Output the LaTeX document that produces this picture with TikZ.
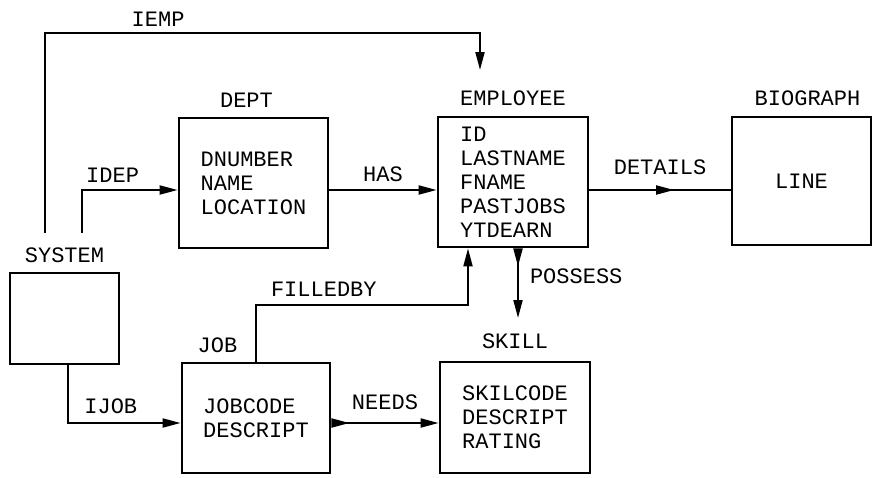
\documentclass[tikz,border=0pt]{standalone}
\usepackage{fontspec}
\setmonofont{Liberation Mono}
\usetikzlibrary{arrows.meta, positioning, decorations.markings}
\tikzset{
  every picture/.style={font=\ttfamily\fontsize{22}{24}\selectfont, line width=2pt},
  >={Triangle[length=18pt, width=9pt]},
  box/.style={draw, line width=2.8pt, align=left, inner sep=0pt},
  tag/.style={inner sep=0pt},
  rel/.style={inner sep=0pt},
  arrow/.style={->},
  twoway/.style={{Triangle[reversed, length=18pt, width=9pt]}->},
  midarrow/.style={postaction={decorate}, decoration={markings, mark=at position 0.6 with {\arrow{>}}}},
}

\begin{document}
\begin{tikzpicture}[x=1pt, y=-1pt]
  \useasboundingbox (0,0) rectangle (875,477);
  % entities
  \node[box, minimum width=109, minimum height=91] (sys) at (64.5,318.5) {};
  \node[box, minimum width=149, minimum height=130] (dept) at (253.5,183) {DNUMBER\\NAME\\LOCATION};
  \node[box, minimum width=150, minimum height=130] (emp) at (513,182) {ID\\LASTNAME\\FNAME\\PASTJOBS\\YTDEARN};
  \node[box, minimum width=139, minimum height=128] (bio) at (801.5,181) {LINE};
  \node[box, minimum width=148, minimum height=110] (job) at (256,418) {JOBCODE\\DESCRIPT};
  \node[box, minimum width=150, minimum height=111] (skill) at (515,417.5) {SKILCODE\\DESCRIPT\\RATING};
  \node[tag, above=8pt of sys] (sysname) {SYSTEM};
  \node[tag, above=8pt of dept, xshift=-7pt] (deptname) {DEPT};
  \node[tag, above=9pt of emp] (empname) {EMPLOYEE};
  \node[tag, above=9pt of bio, xshift=6pt] (bioname) {BIOGRAPH};
  \node[tag, above right=8pt and 16pt of job.north west] (jobname) {JOB};
  \node[tag, above=11pt of skill] (skillname) {SKILL};
  % loose ends and rows
  \coordinate (iempfoot) at (45,233);
  \coordinate (idepfoot) at (82,233);
  \coordinate (iemptip) at (480,70);
  \coordinate (posstip) at (518,318);
  \coordinate (rowA) at (0,190);
  \coordinate (rowB) at (0,423);
  % relations
  \draw[arrow] (iempfoot) -- (iempfoot |- 0,33) -| node[rel, pos=0.13, above=6pt] (iemplbl) {IEMP} (iemptip);
  \draw[arrow] (idepfoot) |- node[rel, pos=0.66, above=7pt] (ideplbl) {IDEP} (dept.west |- rowA);
  \draw[arrow] (dept.east |- rowA) -- node[rel, above=7pt] (haslbl) {HAS} (emp.west |- rowA);
  \draw[midarrow] (emp.east |- rowA) -- node[rel, above=14pt] (detlbl) {DETAILS} (bio.west |- rowA);
  \draw[twoway] ([xshift=5pt]emp.south) -- node[rel, pos=0.4, right=11pt] (posslbl) {POSSESS} (posstip);
  \draw[arrow] (job.north) |- node[rel, pos=0.66, above=8pt] (filllbl) {FILLEDBY} ([xshift=-45pt]emp.south |- 0,305) -- ([xshift=-45pt]emp.south);
  \draw[arrow] ([xshift=3.5pt]sys.south) |- node[rel, pos=0.69, above=8pt] (ijoblbl) {IJOB} (job.west |- rowB);
  \draw[twoway] (job.east |- rowB) -- node[rel, above=12pt] (needslbl) {NEEDS} (skill.west |- rowB);
\end{tikzpicture}
\end{document}
